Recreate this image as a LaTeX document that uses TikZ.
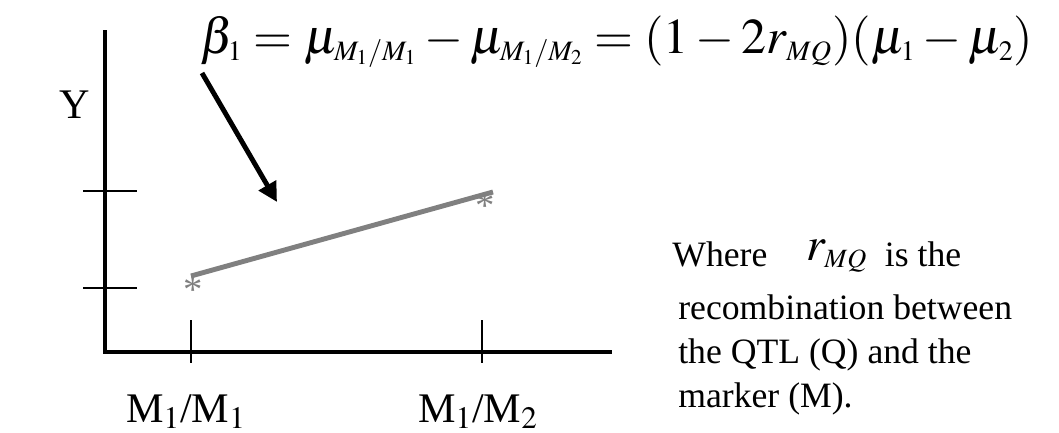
\documentclass[tikz,border=0pt]{standalone}
\usepackage{mathptmx}
\usepackage[no-math]{fontspec}
\setmainfont{Liberation Serif}
\usepackage{xcolor}
\usepackage{tikz}
\usetikzlibrary{arrows.meta,positioning,calc}
\definecolor{LineGray}{HTML}{808080}
\DeclareMathSizes{28.5}{28.5}{16}{12}
\DeclareMathSizes{27}{27}{15}{11}

\begin{document}
\begin{tikzpicture}[x=0.02cm, y=-0.02cm,
  axis/.style={line width=2.8pt, black},
  tick/.style={line width=0.85pt, black},
  fitline/.style={line width=2.8pt, LineGray},
  pt/.style={text=LineGray, inner sep=0pt, font=\fontsize{22}{22}\selectfont},
  lbl/.style={inner sep=0pt, font=\fontsize{24}{24}\selectfont},
  ar/.style={-{Triangle[length=11pt,width=11pt]}, line width=2.8pt, black}]
\useasboundingbox (0,0) rectangle (1059,433);
\node[inner sep=0pt, anchor=base west, font=\fontsize{28.5}{28.5}\selectfont] (eq) at (200,53)
  {$\beta_1=\mu_{M_1/M_1}-\mu_{M_1/M_2}=(1-2r_{MQ})(\mu_1-\mu_2)$};
\coordinate (orig) at (105,352);
\coordinate (ytop) at (105,30);
\coordinate (xend) at (612,352);
\draw[axis] (ytop) -- (orig) -- (xend);
\draw[tick] (83,191) -- (137,191);
\draw[tick] (83,288) -- (137,288);
\draw[tick] (191,320) -- (191,363);
\draw[tick] (482,320) -- (482,363);
\node[lbl, anchor=base] (ylab) at (75,118) {Y};
\node[lbl, anchor=base] (g1) at (186,422) {M$_1$/M$_1$};
\node[lbl, anchor=base] (g2) at (478,422) {M$_1$/M$_2$};
\coordinate (p1) at (191,276);
\coordinate (p2) at (493,192);
\draw[fitline] (p1) -- (p2);
\node[pt, anchor=base] (s1) at (193,302) {*};
\node[pt, anchor=base] (s2) at (485,218) {*};
\coordinate (a0) at (202,73);
\coordinate (a1) at (277,202);
\draw[ar] (a0) -- (a1);
\node[inner sep=0pt, anchor=base west, align=left, font=\fontsize{20.3}{25}\selectfont] (note) at (672,407)
  {Where\hspace{22pt}\raisebox{3.4pt}{\fontsize{27}{27}\selectfont$r_{MQ}$}\hspace{10pt}is the\\[5pt]
   \hspace*{3.4pt}recombination between\\
   \hspace*{3.4pt}the QTL (Q) and the\\
   \hspace*{3.4pt}marker (M).};
\end{tikzpicture}
\end{document}
